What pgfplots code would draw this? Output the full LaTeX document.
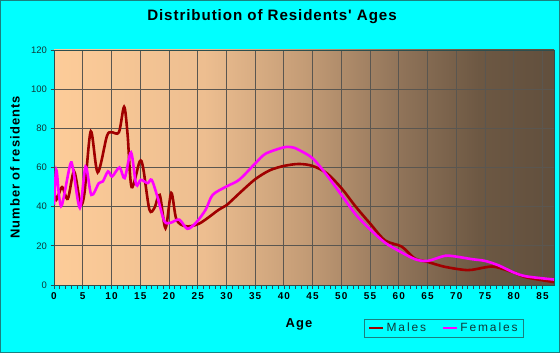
\documentclass[border=0pt]{standalone}
\usepackage{pgfplots}
\pgfplotsset{compat=1.18}
\usepackage{fontspec}
\setmainfont{Liberation Sans}
\newfontfamily\titlefont[LetterSpace=6]{Liberation Sans}
\newfontfamily\labfont[LetterSpace=8]{Liberation Sans}
\newfontfamily\xtfont[LetterSpace=12]{Liberation Sans}
\newfontfamily\legfont[LetterSpace=16]{Liberation Sans}
\definecolor{bgcyan}{HTML}{00FFFF}
\definecolor{frame}{HTML}{1A8080}
\definecolor{c0}{HTML}{FDCC99}
\definecolor{c1}{HTML}{EDBE90}
\definecolor{c2}{HTML}{C49C76}
\definecolor{c3}{HTML}{8E7258}
\definecolor{c4}{HTML}{6D5843}
\definecolor{c5}{HTML}{614F3D}
\definecolor{gridc}{HTML}{5A5650}
\definecolor{axisc}{HTML}{2E4E4E}
\definecolor{tickc}{HTML}{103838}
\definecolor{male}{HTML}{A00000}
\definecolor{female}{HTML}{FF00FF}
\pgfdeclarehorizontalshading{bgshade}{100bp}{color(0bp)=(c0); color(25bp)=(c0); color(40bp)=(c1); color(50bp)=(c2); color(60bp)=(c3); color(67.5bp)=(c4); color(75bp)=(c5); color(100bp)=(c5)}
\begin{document}
\begin{tikzpicture}[x=1bp,y=1bp]
\fill[bgcyan] (0,0) rectangle (560,353);
\draw[frame, line width=1bp] (0.5,0.5) rectangle (559.5,352.5);
\begin{axis}[
  at={(54bp,68bp)},
  scale only axis, width=500bp, height=235bp,
  xmin=0, xmax=87, ymin=0, ymax=120,
  xtick={0,5,...,85}, minor x tick num=4,
  ytick={0,20,...,120},
  tick pos=left, tick align=outside,
  major tick length=3.5bp, minor tick length=3.5bp,
  grid=major,
  major grid style={draw=gridc, line width=0.8bp},
  axis line style={draw=axisc, line width=0.9bp},
  tick style={draw=axisc, line width=0.7bp},
  axis background/.style={shade, shading=bgshade},
  /pgf/number format/assume math mode=true,
  x tick label style={font=\xtfont\bfseries\fontsize{10}{12}\selectfont, text=black, yshift=-1bp},
  y tick label style={font=\fontsize{9.5}{11}\selectfont, text=tickc},
  title={\titlefont\bfseries\fontsize{15.2}{17}\selectfont Distribution of Residents' Ages},
  title style={at={(axis description cs:0.436,1.115)}, anchor=center},
  xlabel={\labfont\bfseries\fontsize{13}{15}\selectfont Age},
  xlabel style={at={(axis description cs:0.49,-0.166)}, anchor=center},
  ylabel={\labfont\bfseries\fontsize{13}{15}\selectfont Number of residents},
  ylabel style={at={(axis description cs:-0.078,0.5)}, anchor=center},
  legend style={at={(0.78,-0.184)}, anchor=center, legend columns=2,
    draw=frame, fill=bgcyan, line width=0.8bp, text=tickc,
    font=\legfont\fontsize{12}{14}\selectfont,
    inner xsep=4bp, inner ysep=2bp,
    /tikz/every even column/.append style={column sep=14bp}},
  legend image code/.code={\draw[#1, line width=2.2bp] (0bp,0bp) -- (14bp,0bp);},
]
\addplot[male, line width=2.6bp, smooth, tension=0.5] coordinates {
(0,49.5)(0.4,43.5)(1.4,50)(2.4,44)(3.5,58)(4.6,41.5)(5.3,47)(6.4,78.5)(7.6,57.5)(9.2,76)(10,78)(11.3,78)(12.2,91)(12.8,77)(13.5,50)(14.9,63)(15.5,60)(16.6,38.5)(17.5,39.5)(18.4,46)(19.4,29)(20.4,47)(21.3,33.5)(22.9,30)(25.3,31.4)(28.7,38.5)(30,40.7)(32.5,47.5)(35,54)(37.5,58.5)(40,60.8)(42.6,61.8)(45,60.8)(47.5,57)(50,49.5)(52.5,40)(55,31.4)(57.6,22.8)(60.5,19.6)(62.8,13.5)(65,11.8)(68,9.3)(72,7.6)(75,9)(76.7,9.3)(80,6.4)(82.2,3.9)(87,1.5)
};
\addlegendentry{Males}
\addplot[female, line width=2.6bp, smooth, tension=0.5] coordinates {
(0,41)(0.4,58.8)(0.9,45)(1.4,41)(2.8,61.3)(3.3,59.6)(4.5,39.4)(5.5,60.5)(6.5,46)(7.8,52)(8.5,52.9)(9.4,58)(10.1,55.4)(11.4,60)(12.3,54.6)(13.4,67.7)(14.3,51.2)(15.1,53.7)(16.3,52)(17,53.7)(18,45)(19.2,32.6)(20.3,31.8)(21.8,33.4)(23.2,28.7)(24.7,31.8)(26.4,38.5)(27.6,46)(30,50.3)(32.2,53.7)(35,62)(36.8,67)(40,70.3)(41.5,70.3)(42.6,69)(45,64.7)(47.5,56)(50,46)(52.5,36)(55,28.4)(57.6,21.6)(60,17.4)(62.8,13.2)(65,12.3)(68,14.9)(70,14.5)(72.7,13.2)(75,12.3)(77.3,10.1)(80,6.4)(82.2,4.4)(87,2.8)
};
\addlegendentry{Females}
\end{axis}
\end{tikzpicture}
\end{document}
